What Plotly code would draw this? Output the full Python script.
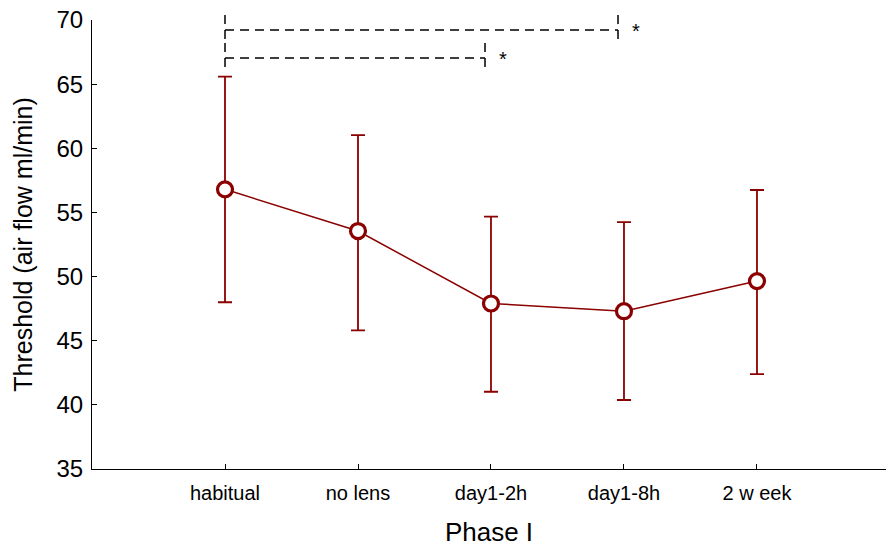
import plotly.graph_objects as go

# ---- data ----
categories = ["habitual", "no lens", "day1-2h", "day1-8h", "2 w eek"]
means = [56.8, 53.55, 47.9, 47.3, 49.65]
upper = [65.58, 61.02, 54.68, 54.25, 56.75]
lower = [48.0, 45.8, 41.02, 40.38, 42.4]

# significance brackets: (from category, to category, bracket level, label)
brackets = [
    ("habitual", "day1-8h", 69.22, "*"),
    ("habitual", "day1-2h", 67.04, "*"),
]

Y_MIN, Y_MAX = 35, 70
RED = "#8b0000"
FONT = "Liberation Sans, Arial, sans-serif"

err_plus = [u - m for u, m in zip(upper, means)]
err_minus = [m - l for m, l in zip(means, lower)]

fig = go.Figure()
fig.add_trace(go.Scatter(
    x=categories, y=means, mode="lines+markers",
    line=dict(color=RED, width=1.5),
    marker=dict(symbol="circle", size=15, color="white",
                line=dict(color=RED, width=3.2)),
    error_y=dict(type="data", symmetric=False, array=err_plus,
                 arrayminus=err_minus, color=RED, thickness=1.8, width=7),
    showlegend=False,
))

def yp(v):
    return (v - Y_MIN) / (Y_MAX - Y_MIN)

shapes = []
annotations = []
dash = "9px,6px"
for a, b, lvl, lab in brackets:
    x0 = categories.index(a)
    x1 = categories.index(b) - 0.045
    top = lvl + 1.17
    bot = lvl - 0.78
    ln = dict(color="black", width=1.5, dash=dash)
    shapes.append(dict(type="line", xref="x", yref="paper", x0=x0, x1=x1,
                       y0=yp(lvl), y1=yp(lvl), line=ln))
    shapes.append(dict(type="line", xref="x", yref="paper", x0=x0, x1=x0,
                       y0=yp(top), y1=yp(bot), line=ln))
    shapes.append(dict(type="line", xref="x", yref="paper", x0=x1, x1=x1,
                       y0=yp(top), y1=yp(bot), line=ln))
    annotations.append(dict(x=x1 + 0.135, y=yp(lvl) - 0.002, xref="x", yref="paper",
                            text=lab, showarrow=False, xanchor="center",
                            yanchor="middle",
                            font=dict(family=FONT, size=20, color="black")))

fig.update_layout(
    width=886, height=548,
    margin=dict(l=92, r=0, t=20, b=79),
    paper_bgcolor="white", plot_bgcolor="white",
    font=dict(family=FONT, color="black"),
    shapes=shapes, annotations=annotations,
    xaxis=dict(
        type="category", range=[-1, 4.97],
        showline=True, linecolor="black", linewidth=1,
        ticks="inside", ticklen=5, tickcolor="black",
        showgrid=False, zeroline=False,
        tickfont=dict(family=FONT, size=20, color="black"),
        ticklabelstandoff=6,
        title=dict(text="Phase I", font=dict(family=FONT, size=26, color="black"),
                   standoff=19),
    ),
    yaxis=dict(
        range=[Y_MIN, Y_MAX], dtick=5, tick0=35,
        showline=True, linecolor="black", linewidth=1,
        ticks="inside", ticklen=5, tickcolor="black",
        showgrid=False, zeroline=False,
        tickfont=dict(family=FONT, size=24, color="black"),
        ticklabelstandoff=3,
        title=dict(text="Threshold (air flow ml/min)",
                   font=dict(family=FONT, size=25, color="black"),
                   standoff=16),
    ),
)

fig.write_html("out.html", config={"displayModeBar": False},
               post_script="document.body.style.margin='0';document.body.style.overflow='hidden';")
